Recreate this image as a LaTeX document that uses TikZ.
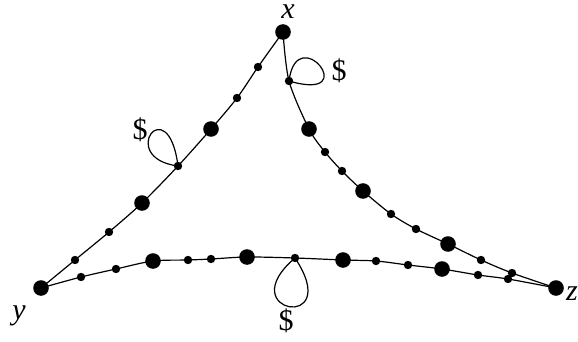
\documentclass[tikz,border=0pt]{standalone}
\usepackage{fontspec}
\setmainfont{Liberation Serif}
\usepackage{tikz}
\usetikzlibrary{calc}
\tikzset{
  bigdot/.style={
    shape = circle,
    fill = black,
    inner sep = 0pt,
    minimum size = 7.8pt
  },
  smalldot/.style={
    shape = circle,
    fill = black,
    inner sep = 0pt,
    minimum size = 4.2pt
  },
  vlabel/.style={
    font = \fontsize{15}{17}\selectfont\itshape,
    inner sep = 0pt
  },
  dollar/.style={
    font = \fontsize{15}{17}\selectfont,
    inner sep = 0pt
  },
  edgeline/.style={
    line width = 0.6pt
  }
}
\begin{document}
\begin{tikzpicture}[x=0.5pt, y=-0.5pt]
    \useasboundingbox (0,0) rectangle (578,342);
    % corners
    \node[bigdot] (x) at (283,32) {};
    \node[bigdot] (y) at (41,288) {};
    \node[bigdot] (z) at (556,288) {};
    \node[vlabel] (lx) at (288,12) {x};
    \node[vlabel] (ly) at (19,316) {y};
    \node[vlabel] (lz) at (572,294) {z};
    % x -- y
    \node[smalldot] (a1) at (258,67) {};
    \node[smalldot] (a2) at (237,98) {};
    \node[bigdot]   (a3) at (211,129) {};
    \node[smalldot] (a4) at (178,166) {};
    \node[bigdot]   (a5) at (142,203) {};
    \node[smalldot] (a6) at (109,232) {};
    \node[smalldot] (a7) at (75,260) {};
    % x -- z
    \node[smalldot] (b1) at (289,81) {};
    \node[bigdot]   (b2) at (309,129) {};
    \node[smalldot] (b3) at (325,152) {};
    \node[smalldot] (b4) at (342,171) {};
    \node[bigdot]   (b5) at (363,191) {};
    \node[smalldot] (b6) at (391,214) {};
    \node[smalldot] (b7) at (416,229) {};
    \node[bigdot]   (b8) at (448,244) {};
    \node[smalldot] (b9) at (481,260) {};
    \node[smalldot] (b10) at (512,273) {};
    % y -- z
    \node[smalldot] (c1) at (81,277) {};
    \node[smalldot] (c2) at (116,269) {};
    \node[bigdot]   (c3) at (153,261) {};
    \node[smalldot] (c4) at (188,260) {};
    \node[smalldot] (c5) at (211,259) {};
    \node[bigdot]   (c6) at (247,257) {};
    \node[smalldot] (c7) at (295,258) {};
    \node[bigdot]   (c8) at (343,260) {};
    \node[smalldot] (c9) at (376,261) {};
    \node[smalldot] (c10) at (408,265) {};
    \node[bigdot]   (c11) at (442,269) {};
    \node[smalldot] (c12) at (478,275) {};
    \node[smalldot] (c13) at (508,279) {};
    % edges
    \draw[edgeline] plot[smooth, tension=0.5] coordinates {(x.center) (a1.center) (a2.center) (a3.center) (a4.center) (a5.center) (a6.center) (a7.center) (y.center)};
    \draw[edgeline] plot[smooth, tension=0.5] coordinates {(x.center) (b1.center) (b2.center) (b3.center) (b4.center) (b5.center) (b6.center) (b7.center) (b8.center) (b9.center) (b10.center) (z.center)};
    \draw[edgeline] plot[smooth, tension=0.5] coordinates {(y.center) (c1.center) (c2.center) (c3.center) (c4.center) (c5.center) (c6.center) (c7.center) (c8.center) (c9.center) (c10.center) (c11.center) (c12.center) (c13.center) (z.center)};
    % loops
    \draw[edgeline] (a4.center) .. controls +(-10,-78) and +(-62,-8) .. (a4.center);
    \draw[edgeline] (b1.center) .. controls +(8,-62) and +(75,22) .. (b1.center);
    \draw[edgeline] (c7.center) .. controls +(-65,55) and +(50,75) .. (c7.center);
    \node[dollar] (d1) at (140,130) {\$};
    \node[dollar] (d2) at (339,71) {\$};
    \node[dollar] (d3) at (286,321) {\$};
\end{tikzpicture}
\end{document}
